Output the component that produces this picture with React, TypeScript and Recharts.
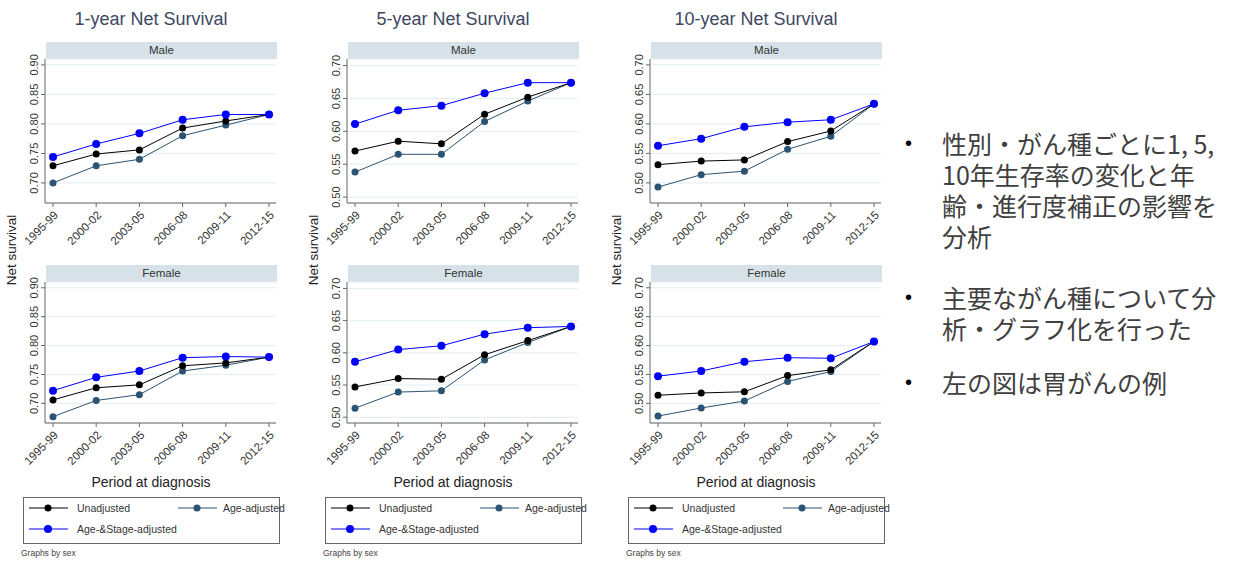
import { CartesianGrid, Line, LineChart, XAxis, YAxis } from "recharts"

const periods = ["1995-99", "2000-02", "2003-05", "2006-08", "2009-11", "2012-15"]

const oneYearMaleUnadj = [0.729, 0.749, 0.756, 0.793, 0.805, 0.816]
const oneYearMaleAge = [0.7, 0.729, 0.74, 0.78, 0.798, 0.816]
const oneYearMaleStage = [0.744, 0.766, 0.784, 0.807, 0.816, 0.816]
const oneYearFemaleUnadj = [0.706, 0.727, 0.732, 0.765, 0.77, 0.78]
const oneYearFemaleAge = [0.677, 0.705, 0.715, 0.756, 0.766, 0.78]
const oneYearFemaleStage = [0.722, 0.745, 0.756, 0.779, 0.781, 0.78]

const fiveYearMaleUnadj = [0.57, 0.585, 0.581, 0.626, 0.652, 0.674]
const fiveYearMaleAge = [0.538, 0.565, 0.565, 0.615, 0.646, 0.674]
const fiveYearMaleStage = [0.611, 0.632, 0.639, 0.658, 0.674, 0.674]
const fiveYearFemaleUnadj = [0.547, 0.56, 0.559, 0.597, 0.619, 0.641]
const fiveYearFemaleAge = [0.514, 0.539, 0.541, 0.589, 0.616, 0.641]
const fiveYearFemaleStage = [0.586, 0.605, 0.611, 0.629, 0.639, 0.641]

const tenYearMaleUnadj = [0.531, 0.537, 0.539, 0.57, 0.588, 0.634]
const tenYearMaleAge = [0.493, 0.514, 0.52, 0.557, 0.579, 0.634]
const tenYearMaleStage = [0.563, 0.575, 0.595, 0.603, 0.607, 0.634]
const tenYearFemaleUnadj = [0.514, 0.518, 0.52, 0.548, 0.558, 0.607]
const tenYearFemaleAge = [0.478, 0.492, 0.504, 0.538, 0.555, 0.607]
const tenYearFemaleStage = [0.547, 0.556, 0.572, 0.579, 0.578, 0.607]

const oneYearTicks = [0.7, 0.75, 0.8, 0.85, 0.9]
const fiveYearTicks = [0.5, 0.55, 0.6, 0.65, 0.7]
const tenYearTicks = [0.5, 0.55, 0.6, 0.65, 0.7]

const titles = ["1-year Net Survival", "5-year Net Survival", "10-year Net Survival"]
const seriesNames = ["Unadjusted", "Age-adjusted", "Age-&Stage-adjusted"]

const bullets = [
  ["性別・がん種ごとに1, 5,", "10年生存率の変化と年", "齢・進行度補正の影響を", "分析"],
  ["主要ながん種について分", "析・グラフ化を行った"],
  ["左の図は胃がんの例"],
]

const font = "'Liberation Sans', Arial, sans-serif"
const cUnadj = "#000000"
const cAge = "#2b5373"
const cStage = "#0000ff"

const toRows = (u: number[], a: number[], s: number[]) =>
  periods.map((p, i) => ({ period: p, unadj: u[i], age: a[i], stage: s[i] }))

const columns = [
  {
    x: 0,
    title: titles[0],
    ticks: oneYearTicks,
    domain: [0.666, 0.91],
    male: toRows(oneYearMaleUnadj, oneYearMaleAge, oneYearMaleStage),
    female: toRows(oneYearFemaleUnadj, oneYearFemaleAge, oneYearFemaleStage),
  },
  {
    x: 302,
    title: titles[1],
    ticks: fiveYearTicks,
    domain: [0.491, 0.71],
    male: toRows(fiveYearMaleUnadj, fiveYearMaleAge, fiveYearMaleStage),
    female: toRows(fiveYearFemaleUnadj, fiveYearFemaleAge, fiveYearFemaleStage),
  },
  {
    x: 605,
    title: titles[2],
    ticks: tenYearTicks,
    domain: [0.466, 0.71],
    male: toRows(tenYearMaleUnadj, tenYearMaleAge, tenYearMaleStage),
    female: toRows(tenYearFemaleUnadj, tenYearFemaleAge, tenYearFemaleStage),
  },
]

const YTick = (props: any) => {
  const { x, y, payload } = props
  return (
    <text
      x={x}
      y={y}
      transform={`rotate(-90 ${x} ${y})`}
      textAnchor="middle"
      fontSize={11}
      fill="#333"
      fontFamily={font}
    >
      {Number(payload.value).toFixed(2)}
    </text>
  )
}

// chart gets 12px extra on top so the rotated top tick label is not clipped
function Panel({ left, top, plotHeight, data, ticks, domain }: any) {
  return (
    <div style={{ position: "absolute", left, top: top - 12 }}>
      <LineChart width={280} height={plotHeight + 62} data={data} margin={{ top: 12, right: 4, left: 0, bottom: 0 }}>
        <CartesianGrid vertical={false} stroke="#e4edf0" />
        <XAxis
          dataKey="period"
          padding={{ left: 8, right: 7 }}
          height={50}
          interval={0}
          angle={-45}
          textAnchor="end"
          tickSize={4}
          tickMargin={3}
          stroke="#666"
          tick={{ fontSize: 11.5, fill: "#333", fontFamily: font }}
        />
        <YAxis
          width={45}
          domain={domain}
          ticks={ticks}
          tickSize={4}
          tickMargin={3}
          stroke="#666"
          tick={<YTick />}
        />
        <Line
          type="linear"
          dataKey="age"
          stroke={cAge}
          strokeWidth={1}
          dot={{ r: 3.5, fill: cAge, stroke: cAge, strokeWidth: 0 }}
          isAnimationActive={false}
        />
        <Line
          type="linear"
          dataKey="unadj"
          stroke={cUnadj}
          strokeWidth={1}
          dot={{ r: 3.5, fill: cUnadj, stroke: cUnadj, strokeWidth: 0 }}
          isAnimationActive={false}
        />
        <Line
          type="linear"
          dataKey="stage"
          stroke={cStage}
          strokeWidth={1}
          dot={{ r: 4, fill: cStage, stroke: cStage, strokeWidth: 0 }}
          isAnimationActive={false}
        />
      </LineChart>
    </div>
  )
}

function Strip({ left, top, label }: any) {
  return (
    <div
      style={{
        position: "absolute",
        left,
        top,
        width: 231,
        height: 17,
        background: "#d6e2e8",
        color: "#333",
        fontSize: 11.5,
        lineHeight: "17px",
        textAlign: "center",
        fontFamily: font,
      }}
    >
      {label}
    </div>
  )
}

function LegendBox({ left, top }: any) {
  return (
    <svg width={262} height={48} style={{ position: "absolute", left, top, overflow: "visible" }}>
      <rect x={0.5} y={0.5} width={256} height={46} fill="none" stroke="#666" />
      <line x1={6} y1={11} x2={45} y2={11} stroke={cUnadj} />
      <circle cx={25} cy={11} r={3.5} fill={cUnadj} />
      <text x={54} y={15} fontSize={10.5} fill="#333" fontFamily={font}>
        {seriesNames[0]}
      </text>
      <line x1={155} y1={11} x2={194} y2={11} stroke={cAge} />
      <circle cx={174} cy={11} r={3.5} fill={cAge} />
      <text x={200} y={15} fontSize={10.5} fill="#333" fontFamily={font}>
        {seriesNames[1]}
      </text>
      <line x1={6} y1={32} x2={45} y2={32} stroke={cStage} />
      <circle cx={25} cy={32} r={4} fill={cStage} />
      <text x={54} y={36} fontSize={10.5} fill="#333" fontFamily={font}>
        {seriesNames[2]}
      </text>
    </svg>
  )
}

const abs = (extra: any) => ({ position: "absolute" as const, whiteSpace: "nowrap" as const, ...extra })

const bulletTops = [128, 282, 367]

export default function App() {
  const jp = "'Noto Sans CJK JP', sans-serif"
  return (
    <div style={{ position: "absolute", left: 0, top: 0, width: 1238, height: 561, background: "#fff", fontFamily: font }}>
      {columns.map((c) => (
        <div key={c.title}>
          <div style={abs({ left: c.x + 51, top: 9, width: 200, textAlign: "center", fontSize: 18, color: "#3b4862" })}>
            {c.title}
          </div>
          <Strip left={c.x + 46} top={42} label="Male" />
          <Panel left={c.x} top={59} plotHeight={144} data={c.male} ticks={c.ticks} domain={c.domain} />
          <Strip left={c.x + 46} top={265} label="Female" />
          <Panel left={c.x} top={282} plotHeight={141} data={c.female} ticks={c.ticks} domain={c.domain} />
          <div
            style={abs({
              left: c.x + 12 - 50,
              top: 250 - 9,
              width: 100,
              height: 18,
              lineHeight: "18px",
              textAlign: "center",
              fontSize: 13.5,
              color: "#222",
              transform: "rotate(-90deg)",
            })}
          >
            Net survival
          </div>
          <div style={abs({ left: c.x + 51, top: 474, width: 200, textAlign: "center", fontSize: 14, color: "#222" })}>
            Period at diagnosis
          </div>
          <LegendBox left={c.x + 23} top={497} />
          <div style={abs({ left: c.x + 21, top: 548, fontSize: 8.5, color: "#444" })}>Graphs by sex</div>
        </div>
      ))}
      {bullets.map((lines, b) => (
        <div key={b}>
          <div style={abs({ left: 905, top: bulletTops[b], height: 31, fontSize: 20, lineHeight: "31px", color: "#000" })}>
            •
          </div>
          {lines.map((line, i) => (
            <div
              key={i}
              style={abs({
                left: 942,
                top: bulletTops[b] + i * 31,
                height: 31,
                overflow: "visible",
                fontSize: 25,
                lineHeight: "31px",
                color: "#404040",
                fontFamily: jp,
              })}
            >
              {line}
            </div>
          ))}
        </div>
      ))}
    </div>
  )
}
